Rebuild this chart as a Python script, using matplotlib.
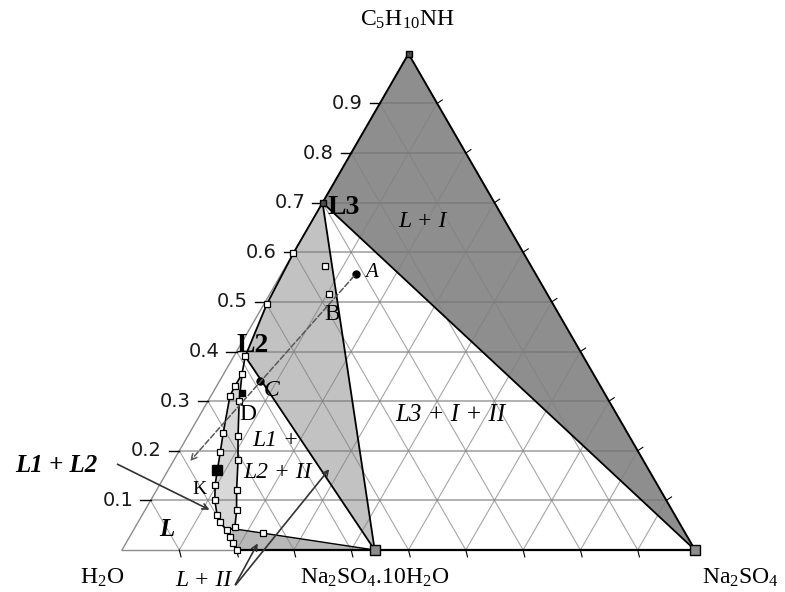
import numpy as np
import matplotlib.pyplot as plt
from matplotlib.patches import Polygon

plt.rcParams['mathtext.fontset'] = 'custom'
plt.rcParams['mathtext.rm'] = 'Liberation Serif'
plt.rcParams['mathtext.it'] = 'Liberation Serif:italic'
plt.rcParams['mathtext.bf'] = 'Liberation Serif:bold'

S3 = np.sqrt(3) / 2

# compositions: (mass fraction Na2SO4, mass fraction C5H10NH)
top = [(0.0, 1.0)]
na2so4 = [(1.0, 0.0)]
salt10 = [(0.441, 0.0)]
L3 = [(0.0, 0.70)]
L2 = [(0.020, 0.390)]

l3_l2_edge = [(0.0, 0.70), (0.0, 0.598), (0.005, 0.496), (0.020, 0.390)]
l3_salt_markers = [(0.068, 0.572), (0.103, 0.516)]

strip_right = [(0.020, 0.390), (0.032, 0.355), (0.054, 0.301), (0.088, 0.229),
               (0.112, 0.181), (0.140, 0.120), (0.160, 0.080), (0.174, 0.046),
               (0.166, 0.039)]
binodal = [(0.032, 0.355), (0.032, 0.331), (0.033, 0.311), (0.059, 0.235),
           (0.073, 0.197), (0.086, 0.161), (0.097, 0.131), (0.112, 0.100),
           (0.131, 0.070), (0.143, 0.056), (0.163, 0.040), (0.175, 0.026),
           (0.187, 0.014), (0.201, 0.0)]
bottom_tri = [(0.172, 0.043), (0.229, 0.034), (0.441, 0.0), (0.201, 0.0),
              (0.187, 0.014), (0.175, 0.026)]

pA = [(0.130, 0.556)]
pC = [(0.070, 0.341)]
pD = [(0.051, 0.317)]
pK = [(0.086, 0.161)]
dash_end = [(0.028, 0.175)]

ticks = [0.1, 0.2, 0.3, 0.4, 0.5, 0.6, 0.7, 0.8, 0.9]


def cart(pts):
    a = np.asarray(pts, dtype=float)
    return a[:, 0] + a[:, 1] / 2, a[:, 1] * S3


def at(px, py):
    # label placement helper (pixel -> axes data)
    return (px - 122) / 573, (550 - py) / 573


fig = plt.figure(figsize=(7.85, 5.92), dpi=100)
ax = fig.add_axes([0, 0, 1, 1])
ax.set_xlim(-122 / 573, 663 / 573)
ax.set_ylim(-42 / 573, 550 / 573)
ax.axis('off')


def fill(pts, color, z=1):
    x, y = cart(pts)
    ax.add_patch(Polygon(np.column_stack([x, y]), closed=True, fc=color,
                         ec='none', zorder=z))


def line(pts, **kw):
    x, y = cart(pts)
    ax.plot(x, y, **kw)


# shaded regions
fill(top + L3 + na2so4, '#8e8e8e')
fill(l3_l2_edge + salt10, '#c2c2c2')
fill(strip_right + binodal[::-1][3:], '#d8d8d8')
fill(bottom_tri, '#b8b8b8')

# grid
for t in ticks:
    line([(0, t), (1 - t, t)], color='0.45', lw=1.1, alpha=0.7, zorder=2)
    line([(t, 0), (t, 1 - t)], color='0.5', lw=0.8, alpha=0.7, zorder=2)
    line([(t, 0), (0, t)], color='0.5', lw=0.8, alpha=0.7, zorder=2)

# triangle frame
line([(0, 0), (0.201, 0)], color='0.55', lw=1.0, zorder=3)
line([(0, 0), (0, 0.70)], color='0.55', lw=1.0, zorder=3)
line([(0.201, 0), (1, 0)], color='k', lw=1.6, zorder=3)
line(top + na2so4, color='k', lw=1.4, zorder=3)
line(top + L3, color='k', lw=1.4, zorder=3)

# tick marks and labels
for t in ticks:
    x, y = cart([(0, t)])
    ax.plot([x[0] - 0.018, x[0]], [y[0], y[0]], color='k', lw=1.0, zorder=3)
    ax.text(x[0] - 0.03, y[0], f'{t:.1f}', ha='right', va='center',
            fontsize=14, family='DejaVu Sans', color='0.1', zorder=5)
    x, y = cart([(t, 0)])
    ax.plot([x[0], x[0] + 0.003], [0, -0.012], color='k', lw=0.8, zorder=3)
    x, y = cart([(1 - t, t)])
    ax.plot([x[0], x[0] + 0.009], [y[0], y[0] + 0.006], color='k', lw=0.8, zorder=3)

# phase boundaries
line(L3 + na2so4, color='k', lw=1.3, zorder=3)
line(L3 + salt10, color='k', lw=1.3, zorder=3)
line(L2 + salt10, color='k', lw=1.3, zorder=3)
line(l3_l2_edge, color='k', lw=1.3, zorder=3)
line(strip_right, color='k', lw=1.2, zorder=3)
line(binodal, color='k', lw=1.2, zorder=3)
line([bottom_tri[0], bottom_tri[1], bottom_tri[2]], color='k', lw=1.0, zorder=3)

# experimental points
mk = dict(ls='none', marker='s', ms=4, mfc='white', mec='k', mew=0.9, zorder=4)
for pts in (l3_l2_edge[1:], l3_salt_markers, strip_right[1:-1], binodal[1:],
            [bottom_tri[1]]):
    line(pts, **mk)
line(top + L3, ls='none', marker='s', ms=5, mfc='0.3', mec='k', zorder=4)
line(salt10 + na2so4, ls='none', marker='s', ms=7, mfc='0.55', mec='k', zorder=4)
line(pK, ls='none', marker='s', ms=7, mfc='k', mec='k', zorder=4)
line(pD, ls='none', marker='s', ms=4, mfc='k', mec='k', zorder=4)
line(pA + pC, ls='none', marker='o', ms=5, mfc='k', mec='k', zorder=4)

# dashed mixing line
xa, ya = cart(pA)
xe, ye = cart(dash_end)
ax.annotate('', xy=(xe[0], ye[0]), xytext=(xa[0], ya[0]),
            arrowprops=dict(arrowstyle='->', lw=1.1, ls='--', color='0.35'),
            zorder=4)

# annotation arrows
arr = dict(arrowstyle='->', lw=1.2, color='0.2')
ax.annotate('', xy=at(212, 511), xytext=at(115, 463), arrowprops=arr)
ax.annotate('', xy=at(331, 467), xytext=at(234, 587), arrowprops=arr)
ax.annotate('', xy=at(259, 541), xytext=at(234, 587), arrowprops=arr)

# labels
serif = 'Liberation Serif'
ax.text(*at(407, 20), r'C$_5$H$_{10}$NH', ha='center', va='center', fontsize=17, family=serif)
ax.text(*at(102, 578), r'H$_2$O', ha='center', va='center', fontsize=17, family=serif)
ax.text(*at(375, 578), r'Na$_2$SO$_4$.10H$_2$O', ha='center', va='center', fontsize=17, family=serif)
ax.text(*at(740, 578), r'Na$_2$SO$_4$', ha='center', va='center', fontsize=17, family=serif)

ax.text(*at(344, 207), 'L3', ha='center', va='center', fontsize=20, family=serif, weight='bold', zorder=5)
ax.text(*at(253, 345), 'L2', ha='center', va='center', fontsize=20, family=serif, weight='bold', zorder=5)
ax.text(*at(422, 221), 'L + I', ha='center', va='center', fontsize=17, family=serif, style='italic', zorder=5)
ax.text(*at(450, 415), 'L3 + I + II', ha='center', va='center', fontsize=18, family=serif, style='italic', zorder=5)
ax.text(*at(276, 440), 'L1 +', ha='center', va='center', fontsize=17, family=serif, style='italic', zorder=5)
ax.text(*at(278, 473), 'L2 + II', ha='center', va='center', fontsize=17, family=serif, style='italic', zorder=5)
ax.text(*at(56, 465), 'L1 + L2', ha='center', va='center', fontsize=18, family=serif, style='italic', weight='bold', zorder=5)
ax.text(*at(167, 530), 'L', ha='center', va='center', fontsize=18, family=serif, style='italic', weight='bold', zorder=5)
ax.text(*at(203, 581), 'L + II', ha='center', va='center', fontsize=17, family=serif, style='italic', zorder=5)
ax.text(*at(372, 272), 'A', ha='center', va='center', fontsize=15, family=serif, style='italic', zorder=5)
ax.text(*at(332, 314), 'B', ha='center', va='center', fontsize=17, family=serif, zorder=5)
ax.text(*at(272, 390), 'C', ha='center', va='center', fontsize=17, family=serif, style='italic', zorder=5)
ax.text(*at(248, 414), 'D', ha='center', va='center', fontsize=17, family=serif, zorder=5)
ax.text(*at(199, 490), 'K', ha='center', va='center', fontsize=14, family=serif, zorder=5)

fig.savefig('out.png', dpi=100)
